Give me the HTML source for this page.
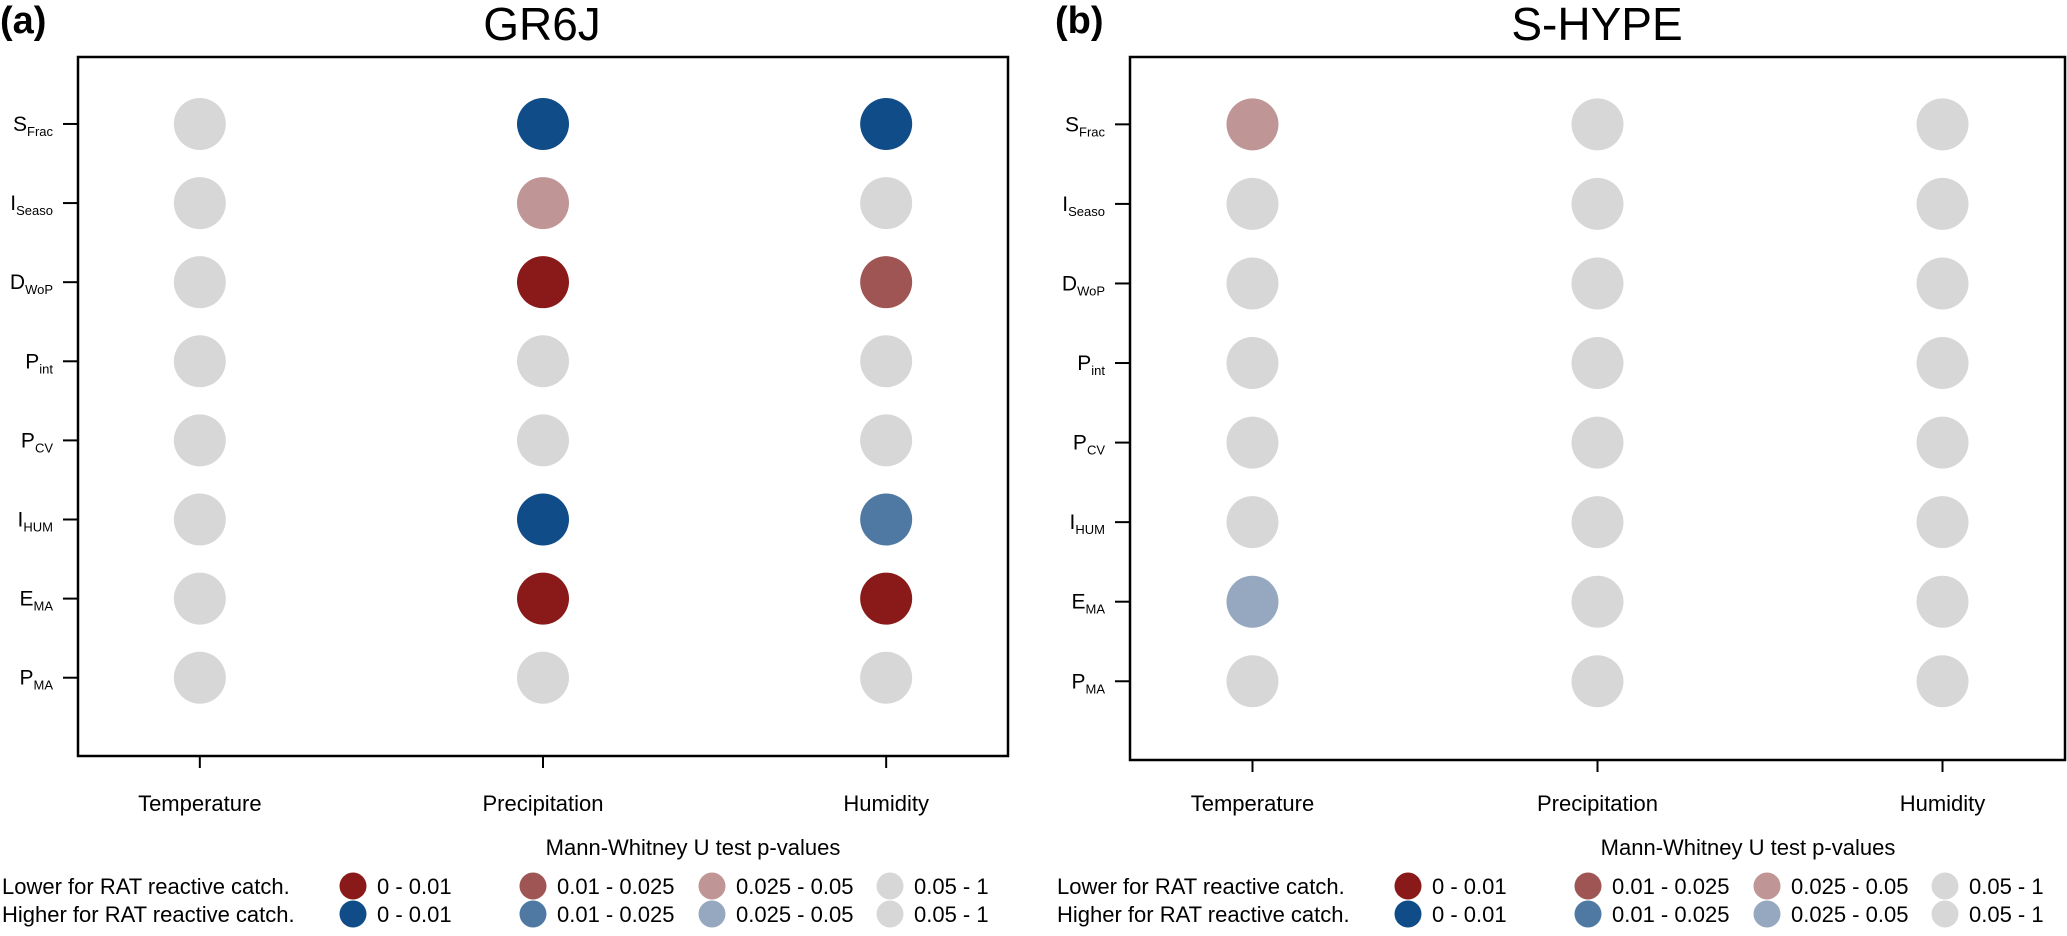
<!DOCTYPE html>
<html><head><meta charset="utf-8">
<style>
html,body{margin:0;padding:0;background:#fff;}
svg{display:block;font-family:"Liberation Sans",Arial,sans-serif;}
</style></head>
<body>
<svg id="chart" width="2067" height="936" viewBox="0 0 2067 936" xmlns="http://www.w3.org/2000/svg"></svg>
<script>
// Data: signed significance level per (row, column). -1 strong lower (red), -2 mid red, -3 light red,
// +1 strong higher (blue), +2 mid blue, +3 light blue, 0 not significant (grey)
const rowLabels = [["S","Frac"],["I","Seaso"],["D","WoP"],["P","int"],["P","CV"],["I","HUM"],["E","MA"],["P","MA"]];
const colLabels = ["Temperature","Precipitation","Humidity"];
const gr6jValues = [
  [0, 1, 1],
  [0, -3, 0],
  [0, -1, -2],
  [0, 0, 0],
  [0, 0, 0],
  [0, 1, 2],
  [0, -1, -1],
  [0, 0, 0]
];
const shypeValues = [
  [-3, 0, 0],
  [0, 0, 0],
  [0, 0, 0],
  [0, 0, 0],
  [0, 0, 0],
  [0, 0, 0],
  [3, 0, 0],
  [0, 0, 0]
];
const legendLevels = ["0 - 0.01","0.01 - 0.025","0.025 - 0.05","0.05 - 1"];

const NS="http://www.w3.org/2000/svg";
const svg=document.getElementById('chart');
function mk(tag,attrs,parent){const e=document.createElementNS(NS,tag);for(const k in attrs)e.setAttribute(k,attrs[k]);(parent||svg).appendChild(e);return e;}
function color(v){
  const m={"-1":"#8a1a1a","-2":"#a05555","-3":"#bf9595","1":"#0f4c88","2":"#4f79a3","3":"#95a8bf","0":"#d7d7d7"};
  return m[String(v)];
}

function panel(box,title,tag,titleX,tagX,values,legendOff,pname){
  const g=mk('g',{});
  
  
  const xs=f=>box.l+f*(box.r-box.l);
  const colF=i=>0.131+i*0.369;
  const rowF=j=>0.0958+j*(0.888-0.0958)/(rowLabels.length-1);
  const ys=f=>box.t+f*(box.b-box.t);
  const t=mk('text',{x:titleX,y:40,'font-size':46,'text-anchor':'middle',fill:'#000'},g);t.textContent=title;
  
  const tg=mk('text',{x:tagX,y:33,'font-size':38,'font-weight':'bold',fill:'#000'},g);tg.textContent=tag;
  
  const r=mk('rect',{x:box.l,y:box.t,width:box.r-box.l,height:box.b-box.t,fill:'none',stroke:'#000','stroke-width':2.5},g);
  
  rowLabels.forEach((lab,j)=>{
    const y=ys(rowF(j));
    mk('line',{x1:box.l-15,x2:box.l,y1:y,y2:y,stroke:'#000','stroke-width':2},g);
    const tx=mk('text',{x:box.l-25,y:y+7,'font-size':21,'text-anchor':'end',fill:'#000'},g);
    
    const a=mk('tspan',{},tx);a.textContent=lab[0];
    const b=mk('tspan',{'font-size':13,dy:5},tx);b.textContent=lab[1];
  });
  colLabels.forEach((lab,i)=>{
    const x=xs(colF(i));
    mk('line',{x1:x,x2:x,y1:box.b,y2:box.b+12,stroke:'#000','stroke-width':2},g);
    const tx=mk('text',{x:x,y:811,'font-size':22,'text-anchor':'middle',fill:'#000'},g);tx.textContent=lab;
    
  });
  values.forEach((row,j)=>row.forEach((v,i)=>{
    const c=mk('circle',{cx:xs(colF(i)),cy:ys(rowF(j)),r:26,fill:color(v)},g);
    
    
  }));
  // legend
  const lg=mk('g',{transform:'translate('+legendOff+',0)'},g);
  
  
  const lt=mk('text',{x:693,y:855,'font-size':22,'text-anchor':'middle',fill:'#000'},lg);lt.textContent='Mann-Whitney U test p-values';
  const rows=[{y:886,label:'Lower for RAT reactive catch.',sign:-1},{y:914,label:'Higher for RAT reactive catch.',sign:1}];
  const dotX=[353,533,712,890];
  rows.forEach(rw=>{
    const l=mk('text',{x:2,y:rw.y+8,'font-size':22,fill:'#000'},lg);l.textContent=rw.label;
    
    legendLevels.forEach((lv,k)=>{
      const v=k===3?0:rw.sign*(k+1);
      const c=mk('circle',{cx:dotX[k],cy:rw.y,r:13.5,fill:color(v)},lg);
      
      const tx=mk('text',{x:dotX[k]+24,y:rw.y+8,'font-size':22,fill:'#000'},lg);tx.textContent=lv;
      
    });
  });
}
panel({l:78,r:1008,t:57,b:756},'GR6J','(a)',542,0,gr6jValues,0,'panel-gr6j');
panel({l:1130,r:2065,t:57,b:760},'S-HYPE','(b)',1597,1055,shypeValues,1055,'panel-s-hype');
</script>
</body></html>
